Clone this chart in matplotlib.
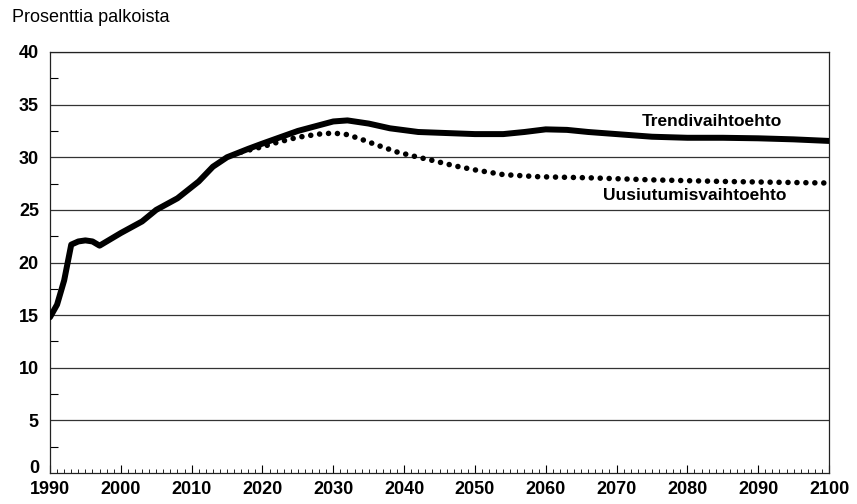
import numpy as np
import matplotlib
matplotlib.use("Agg")
import matplotlib.pyplot as plt
import matplotlib.transforms as mtransforms
from matplotlib.ticker import MultipleLocator

# solid line: Trendivaihtoehto
trend_years = [1990, 1991, 1992, 1993, 1994, 1995, 1996, 1997, 1998, 2000,
               2003, 2005, 2008, 2011, 2013, 2015, 2018, 2020, 2025, 2030,
               2032, 2035, 2038, 2042, 2046, 2050, 2054, 2057, 2060, 2063,
               2066, 2070, 2075, 2080, 2085, 2090, 2095, 2100]
trend_vals = [14.8, 16.0, 18.3, 21.7, 22.0, 22.1, 22.0, 21.6, 22.0, 22.8,
              23.9, 25.0, 26.1, 27.7, 29.1, 30.0, 30.8, 31.3, 32.5, 33.4,
              33.5, 33.2, 32.75, 32.4, 32.3, 32.2, 32.2, 32.4, 32.65, 32.6,
              32.4, 32.2, 31.95, 31.85, 31.85, 31.8, 31.7, 31.55]

# dotted line: Uusiutumisvaihtoehto (splits off the trend around 2018)
uusi_years = [2017, 2020, 2022, 2025, 2028, 2030, 2032, 2034, 2036, 2039,
              2042, 2044, 2047, 2050, 2054, 2059, 2066, 2075, 2085, 2100]
uusi_vals = [30.5, 31.0, 31.4, 31.9, 32.2, 32.3, 32.15, 31.7, 31.2, 30.5,
             30.0, 29.7, 29.2, 28.8, 28.35, 28.15, 28.05, 27.85, 27.7, 27.55]

x_ticks = list(range(1990, 2101, 10))
y_ticks = list(range(0, 41, 5))

plt.rcParams['font.family'] = ['Liberation Sans', 'DejaVu Sans']

fig = plt.figure(figsize=(8.57, 5.04), dpi=100)
ax = fig.add_axes([50 / 857, 1 - 473 / 504, 779 / 857, 421 / 504])

for y in y_ticks[1:]:
    ax.axhline(y, color='#333333', lw=0.9, zorder=1)

ax.plot(trend_years, trend_vals, color='black', lw=4.3,
        solid_capstyle='round', solid_joinstyle='round', zorder=3)
ax.plot(uusi_years, uusi_vals, color='black', lw=4.0,
        linestyle=(0, (0.01, 1.6)), dash_capstyle='round', zorder=3)

ax.text(2083.5, 33.4, 'Trendivaihtoehto', ha='center', va='center',
        fontsize=12.5, fontweight='bold')
ax.text(2081.0, 26.35, 'Uusiutumisvaihtoehto', ha='center', va='center',
        fontsize=12.5, fontweight='bold')

ax.set_xlim(1990, 2100)
ax.set_ylim(0, 40)
ax.set_xticks(x_ticks)
ax.set_yticks(y_ticks)
ax.xaxis.set_minor_locator(MultipleLocator(1))
ax.yaxis.set_minor_locator(MultipleLocator(2.5))

ax.tick_params(axis='x', which='major', direction='in', length=6, width=0.8,
               labelsize=13, pad=6)
ax.tick_params(axis='x', which='minor', direction='in', length=3, width=0.6)
ax.tick_params(axis='y', which='major', direction='in', length=0,
               labelsize=13, pad=8)
ax.tick_params(axis='y', which='minor', direction='in', length=6, width=0.8)
for lab in ax.get_xticklabels() + ax.get_yticklabels():
    lab.set_fontweight('bold')

# the "0" sits a little above the axis line, clear of the year labels
zero = ax.get_yticklabels()[0]
zero.set_transform(zero.get_transform() +
                   mtransforms.ScaledTranslation(0, 5 / 72, fig.dpi_scale_trans))

for side in ['left', 'right', 'bottom', 'top']:
    ax.spines[side].set_linewidth(0.9)
    ax.spines[side].set_color('#222222')

fig.text(12 / 857, 1 - 18 / 504, 'Prosenttia palkoista', ha='left', va='center',
         fontsize=13)

fig.savefig('out.png', dpi=100)
